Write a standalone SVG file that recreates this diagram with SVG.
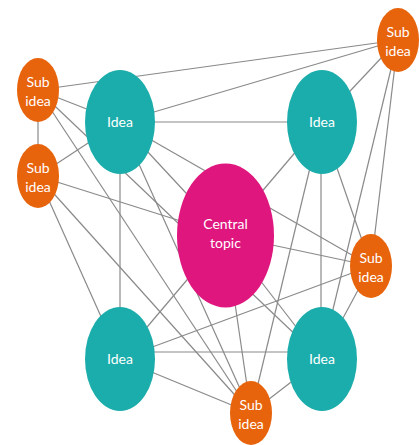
<svg xmlns="http://www.w3.org/2000/svg" width="419" height="445" viewBox="0 0 419 445">
<style>
.e{stroke:#8a8a8a;stroke-width:1.2;fill:none}
.sub{fill:#e8640c}
.idea{fill:#1aadab}
.cen{fill:#e0167f}
text{font-family:Lato,"Open Sans","Liberation Sans",sans-serif;font-size:14px;fill:#ffffff;text-anchor:middle}
</style>
<rect width="419" height="445" fill="#ffffff"/>
<g id="connectors">
<line class="e" x1="38" y1="90" x2="398" y2="40"/>
<line class="e" x1="38" y1="90" x2="38" y2="176"/>
<line class="e" x1="38" y1="90" x2="120" y2="122"/>
<line class="e" x1="38" y1="90" x2="321" y2="359"/>
<line class="e" x1="38" y1="90" x2="251" y2="413"/>
<line class="e" x1="398" y1="40" x2="120" y2="122"/>
<line class="e" x1="398" y1="40" x2="321" y2="122"/>
<line class="e" x1="398" y1="40" x2="321" y2="359"/>
<line class="e" x1="398" y1="40" x2="371" y2="266"/>
<line class="e" x1="120" y1="122" x2="321" y2="122"/>
<line class="e" x1="120" y1="122" x2="225" y2="235"/>
<line class="e" x1="120" y1="122" x2="371" y2="266"/>
<line class="e" x1="120" y1="122" x2="120" y2="359"/>
<line class="e" x1="120" y1="122" x2="251" y2="413"/>
<line class="e" x1="38" y1="176" x2="120" y2="122"/>
<line class="e" x1="38" y1="176" x2="225" y2="235"/>
<line class="e" x1="38" y1="176" x2="120" y2="359"/>
<line class="e" x1="38" y1="176" x2="251" y2="413"/>
<line class="e" x1="321" y1="122" x2="225" y2="235"/>
<line class="e" x1="321" y1="122" x2="321" y2="359"/>
<line class="e" x1="321" y1="122" x2="371" y2="266"/>
<line class="e" x1="321" y1="122" x2="251" y2="413"/>
<line class="e" x1="225" y1="235" x2="371" y2="266"/>
<line class="e" x1="225" y1="235" x2="251" y2="413"/>
<line class="e" x1="225" y1="235" x2="321" y2="359"/>
<line class="e" x1="225" y1="235" x2="120" y2="359"/>
<line class="e" x1="371" y1="266" x2="120" y2="359"/>
<line class="e" x1="371" y1="266" x2="321" y2="359"/>
<line class="e" x1="150" y1="352" x2="292" y2="352"/>
<line class="e" x1="120" y1="359" x2="251" y2="413"/>
<line class="e" x1="251" y1="413" x2="321" y2="359"/>
</g>
<g id="central-topic">
<ellipse class="cen" cx="225.5" cy="235.5" rx="48.5" ry="72"/>
<text x="225.5" y="229">Central</text>
<text x="225.5" y="248">topic</text>
</g>
<g id="idea-tl">
<ellipse class="idea" cx="120" cy="122" rx="35" ry="52"/>
<text x="120" y="127">Idea</text>
</g>
<g id="idea-tr">
<ellipse class="idea" cx="322" cy="122" rx="35" ry="52"/>
<text x="322" y="127">Idea</text>
</g>
<g id="idea-bl">
<ellipse class="idea" cx="120" cy="359" rx="35" ry="52"/>
<text x="120" y="364">Idea</text>
</g>
<g id="idea-br">
<ellipse class="idea" cx="322" cy="359" rx="35" ry="52"/>
<text x="322" y="364">Idea</text>
</g>
<g id="sub-tl">
<ellipse class="sub" cx="38" cy="90" rx="21" ry="32"/>
<text x="38" y="87">Sub</text>
<text x="38" y="106">idea</text>
</g>
<g id="sub-l2">
<ellipse class="sub" cx="38" cy="176" rx="21" ry="32"/>
<text x="38" y="173">Sub</text>
<text x="38" y="192">idea</text>
</g>
<g id="sub-tr">
<ellipse class="sub" cx="398" cy="40" rx="21" ry="32"/>
<text x="398" y="37">Sub</text>
<text x="398" y="56">idea</text>
</g>
<g id="sub-r">
<ellipse class="sub" cx="371" cy="266" rx="21" ry="32"/>
<text x="371" y="263">Sub</text>
<text x="371" y="282">idea</text>
</g>
<g id="sub-b">
<ellipse class="sub" cx="251" cy="413" rx="21" ry="32"/>
<text x="251" y="410">Sub</text>
<text x="251" y="429">idea</text>
</g>
</svg>
